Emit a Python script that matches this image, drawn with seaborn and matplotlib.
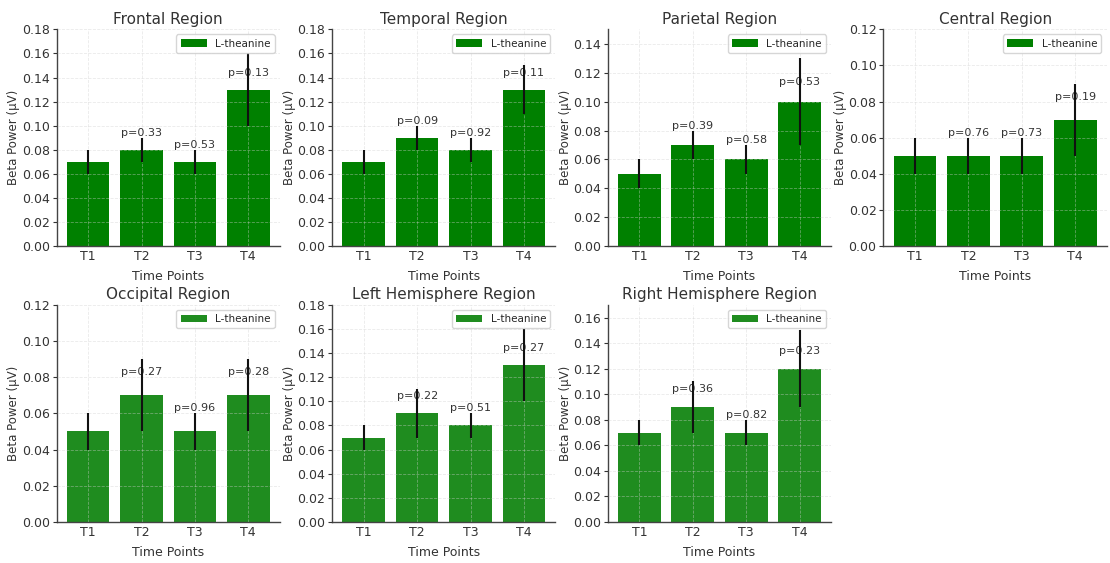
import numpy as np
import pandas as pd
import seaborn as sns
import matplotlib
matplotlib.use("Agg")
import matplotlib.pyplot as plt
from matplotlib.ticker import MultipleLocator, FormatStrFormatter

# values
time_points = ["T1", "T2", "T3", "T4"]
regions = ["Frontal", "Temporal", "Parietal", "Central",
           "Occipital", "Left Hemisphere", "Right Hemisphere"]

frontal_mean = [0.07, 0.08, 0.07, 0.13]
frontal_err = [0.01, 0.01, 0.01, 0.03]
frontal_p = [None, 0.33, 0.53, 0.13]

temporal_mean = [0.07, 0.09, 0.08, 0.13]
temporal_err = [0.01, 0.01, 0.01, 0.02]
temporal_p = [None, 0.09, 0.92, 0.11]

parietal_mean = [0.05, 0.07, 0.06, 0.10]
parietal_err = [0.01, 0.01, 0.01, 0.03]
parietal_p = [None, 0.39, 0.58, 0.53]

central_mean = [0.05, 0.05, 0.05, 0.07]
central_err = [0.01, 0.01, 0.01, 0.02]
central_p = [None, 0.76, 0.73, 0.19]

occipital_mean = [0.05, 0.07, 0.05, 0.07]
occipital_err = [0.01, 0.02, 0.01, 0.02]
occipital_p = [None, 0.27, 0.96, 0.28]

left_mean = [0.07, 0.09, 0.08, 0.13]
left_err = [0.01, 0.02, 0.01, 0.03]
left_p = [None, 0.22, 0.51, 0.27]

right_mean = [0.07, 0.09, 0.07, 0.12]
right_err = [0.01, 0.02, 0.01, 0.03]
right_p = [None, 0.36, 0.82, 0.23]

means = [frontal_mean, temporal_mean, parietal_mean, central_mean,
         occipital_mean, left_mean, right_mean]
errs = [frontal_err, temporal_err, parietal_err, central_err,
        occipital_err, left_err, right_err]
pvals = [frontal_p, temporal_p, parietal_p, central_p,
         occipital_p, left_p, right_p]

sns.set_theme(style="whitegrid")
plt.rcParams["font.family"] = ["DejaVu Sans"]

fig, axes = plt.subplots(2, 4, figsize=(11.1, 5.63), dpi=100)
fig.subplots_adjust(left=0.051, right=0.997, top=0.948, bottom=0.073,
                    wspace=0.235, hspace=0.27)
axes = axes.flatten()

for i, region in enumerate(regions):
    ax = axes[i]
    df = pd.DataFrame({"Time": time_points, "Beta": means[i]})
    col = "#008000" if i < 4 else "#1f8c1f"
    sns.barplot(data=df, x="Time", y="Beta", color=col, saturation=1,
                width=0.8, linewidth=0, label="L-theanine", ax=ax)
    ax.errorbar(np.arange(4), means[i], yerr=errs[i], fmt="none",
                ecolor="#111111", elinewidth=1.5, capsize=0, zorder=4)
    for j, p in enumerate(pvals[i]):
        if p is not None:
            ax.text(j, means[i][j] + 0.01, f"p={p:.2f}", ha="center",
                    va="bottom", fontsize=8, color="#333333", zorder=3)
    ax.set_ylim(0, max(means[i]) + 0.05)
    ax.set_xlim(-0.59, 3.59)
    ax.yaxis.set_major_locator(MultipleLocator(0.02))
    ax.yaxis.set_major_formatter(FormatStrFormatter("%.2f"))
    ax.set_axisbelow(False)
    ax.grid(True, axis="both", linestyle="--", linewidth=0.6,
            color="#d0d0d0", alpha=0.45)
    ax.set_title(f"{region} Region", fontsize=11, color="#333333", pad=4)
    ax.set_xlabel("Time Points", fontsize=9, color="#333333", labelpad=5)
    ax.set_ylabel("Beta Power (μV)", fontsize=8.5, color="#333333", labelpad=1)
    ax.tick_params(axis="both", labelsize=9, colors="#333333")
    ax.tick_params(axis="y", left=True, length=3, width=0.8, pad=2)
    ax.tick_params(axis="x", bottom=False, length=0, pad=3)
    for s in ["top", "right"]:
        ax.spines[s].set_visible(False)
    for s in ["left", "bottom"]:
        ax.spines[s].set_color("#444444")
        ax.spines[s].set_linewidth(1.0)
    ax.legend(loc="upper right", fontsize=7.5, frameon=True,
              handlelength=2.5, borderpad=0.4)

axes[7].axis("off")

fig.savefig("out.png", dpi=100)
